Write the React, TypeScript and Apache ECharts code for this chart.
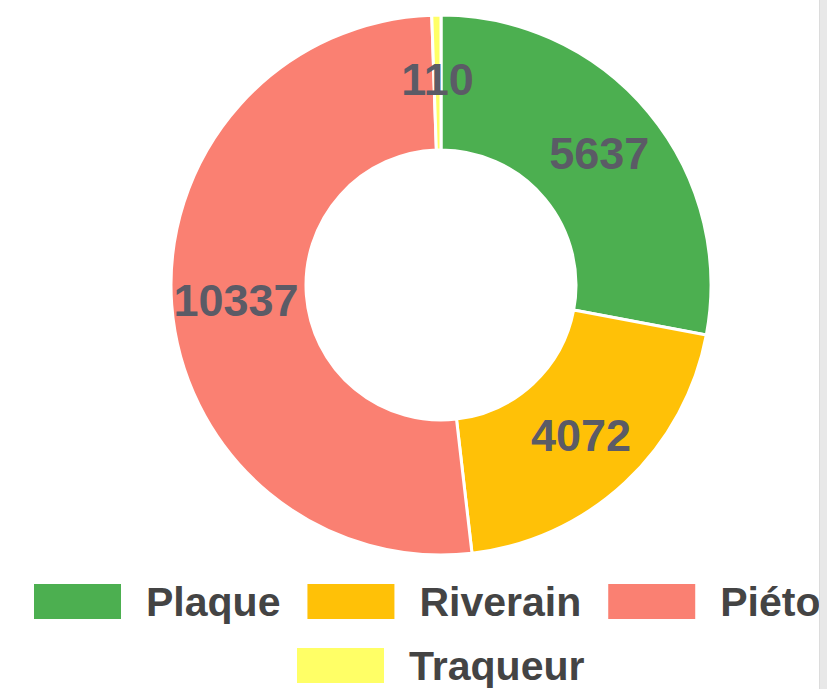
import React, { useEffect, useRef } from "react";
import * as echarts from "echarts";

const categories = ["Plaque", "Riverain", "Piéton", "Traqueur"];
const values = [5637, 4072, 10337, 110];
const colors = ["#4CAF50", "#FFC107", "#FA8072", "#FFFF66"];

export default function App() {
  const ref = useRef<HTMLDivElement>(null);
  useEffect(() => {
    if (!ref.current) return;
    const chart = echarts.init(ref.current, undefined, { renderer: "svg" });
    const font = "'Liberation Sans', Arial, Helvetica, sans-serif";
    const legendCommon = {
      orient: "horizontal",
      icon: "rect",
      itemWidth: 89,
      itemHeight: 37,
      itemGap: 25,
      padding: 0,
      selectedMode: false,
      textStyle: {
        fontSize: 41,
        fontWeight: "bold",
        color: "#444",
        fontFamily: font,
        padding: [0, 0, 0, 19],
      },
    };
    chart.setOption({
      animation: false,
      color: colors,
      legend: [
        { ...legendCommon, left: 32, top: 581, data: categories.slice(0, 3) },
        { ...legendCommon, left: 295, top: 645, data: categories.slice(3) },
      ],
      series: [
        {
          type: "pie",
          center: [441, 285],
          radius: [135, 270],
          startAngle: 90,
          clockwise: true,
          avoidLabelOverlap: false,
          itemStyle: { borderColor: "#fff", borderWidth: 3 },
          label: {
            show: true,
            position: "inside",
            formatter: "{c}",
            fontSize: 45,
            fontWeight: "bold",
            color: "#5b5b66",
            fontFamily: font,
          },
          labelLine: { show: false },
          emphasis: { disabled: true },
          data: categories.map((name, i) => ({ name, value: values[i] })),
        },
      ],
    });
    return () => chart.dispose();
  }, []);
  return (
    <div
      style={{
        position: "fixed",
        left: 0,
        top: 0,
        width: 827,
        height: 689,
        overflow: "hidden",
        background: "#fff",
      }}
    >
      <div ref={ref} style={{ position: "absolute", left: 0, top: 0, width: 882, height: 689 }} />
      <div
        style={{
          position: "absolute",
          left: 819,
          top: 0,
          width: 8,
          height: 689,
          background: "#e8e8e8",
          borderLeft: "1px solid #dcdcdc",
          boxSizing: "border-box",
        }}
      />
    </div>
  );
}
